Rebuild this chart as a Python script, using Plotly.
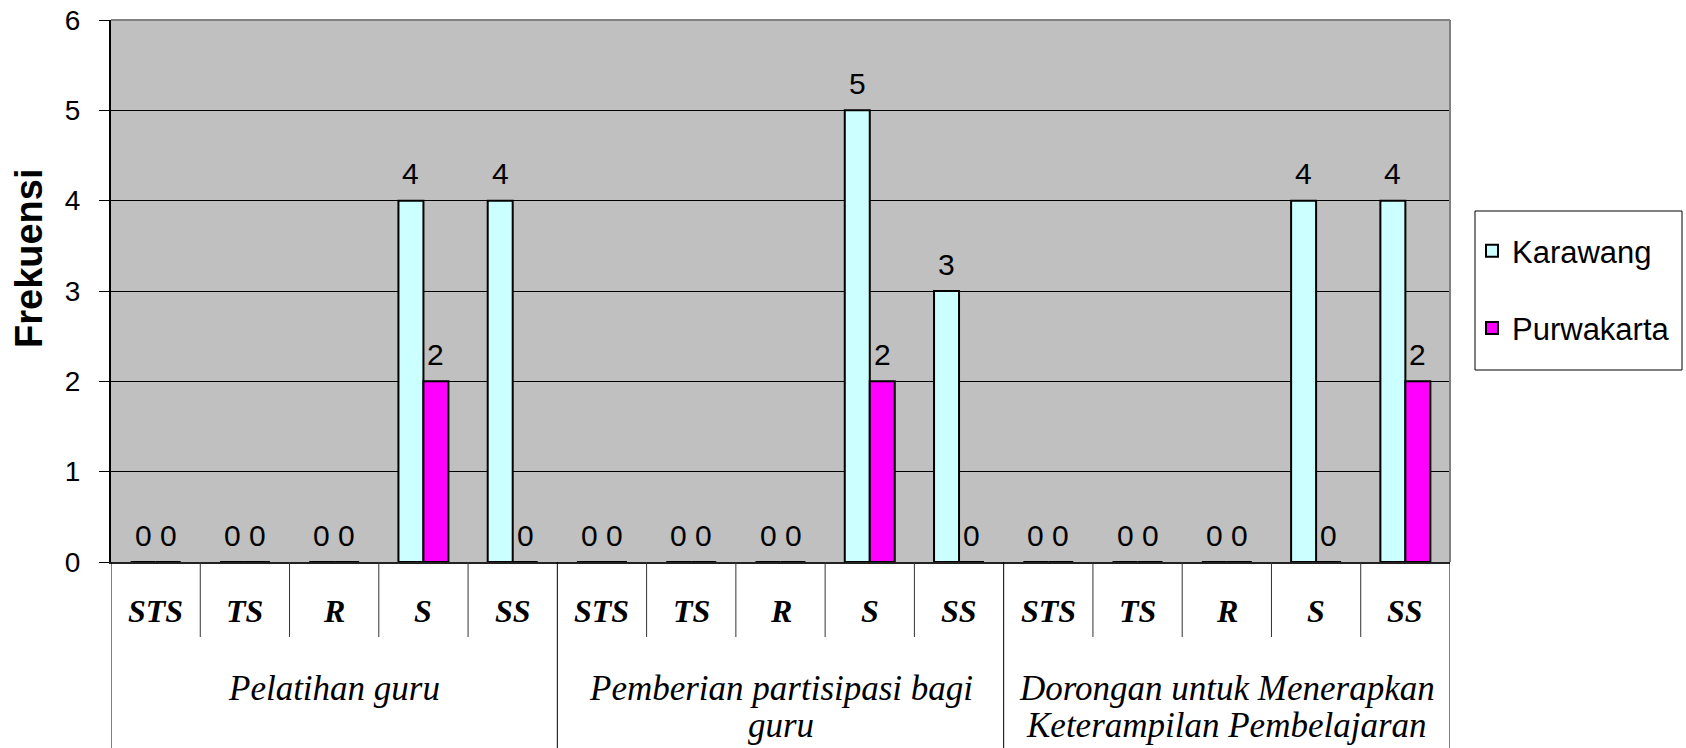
import plotly.graph_objects as go

# ---- data ----
groups = ["Pelatihan guru",
          "Pemberian partisipasi bagi guru",
          "Dorongan untuk Menerapkan Keterampilan Pembelajaran"]
group_lines = [["Pelatihan guru"],
               ["Pemberian partisipasi bagi", "guru"],
               ["Dorongan untuk Menerapkan", "Keterampilan Pembelajaran"]]
levels = ["STS", "TS", "R", "S", "SS"]
karawang = [0, 0, 0, 4, 4, 0, 0, 0, 5, 3, 0, 0, 0, 4, 4]
purwakarta = [0, 0, 0, 2, 0, 0, 0, 0, 2, 0, 0, 0, 0, 0, 2]
series_names = ["Karawang", "Purwakarta"]
y_ticks = [0, 1, 2, 3, 4, 5, 6]

# ---- layout geometry (page pixels; body margin removed in the page) ----
W, H = 1686, 748
PL, PR, PT, PB = 111, 1450, 20, 562          # plot area
L, T, R, B = PL, PT, W - PR, H - PB
plot_w, plot_h = PR - PL, PB - PT

def py(p):   # pixel y -> paper y
    return (PB - p) / plot_h

def pxx(p):  # pixel x -> paper x
    return (p - PL) / plot_w

colors = ["#CCFFFF", "#FF00FF"]
n_lv = len(levels)
n = len(groups) * n_lv
xpos = list(range(n))
bargap = 0.44
half = (1 - bargap) / 4  # centre offset of each bar in a pair

fig = go.Figure()
for k, (name, vals) in enumerate(zip(series_names, [karawang, purwakarta])):
    fig.add_trace(go.Bar(
        x=xpos, y=vals, name=name, legendgroup=name,
        marker=dict(color=colors[k], line=dict(color="black", width=2)),
    ))

annotations = []
# data labels
for k, vals in enumerate([karawang, purwakarta]):
    off = -half if k == 0 else half
    for i, v in enumerate(vals):
        annotations.append(dict(
            x=i + off, y=v, xref="x", yref="y", text=str(v), showarrow=False,
            yanchor="middle", yshift=27,
            font=dict(family="Arial, Liberation Sans", size=30, color="black")))

# sub-category labels
for i in xpos:
    annotations.append(dict(
        x=i, y=py(611), xref="x", yref="paper",
        text="<b><i>" + levels[i % n_lv] + "</i></b>", showarrow=False,
        yanchor="middle",
        font=dict(family="Liberation Serif, Times New Roman", size=32, color="black")))

# group labels
for g, lines in enumerate(group_lines):
    for j, line in enumerate(lines):
        annotations.append(dict(
            x=g * n_lv + (n_lv - 1) / 2, y=py(688 + 37 * j), xref="x", yref="paper",
            text="<i>" + line + "</i>", showarrow=False, yanchor="middle",
            font=dict(family="Liberation Serif, Times New Roman", size=35, color="black")))

# y title
annotations.append(dict(
    x=pxx(29), y=py(258), xref="paper", yref="paper", text="<b>Frekuensi</b>",
    textangle=-90, showarrow=False, xanchor="center", yanchor="middle",
    font=dict(family="Arial, Liberation Sans", size=38, color="black")))

shapes = []
# category dividers
for i in range(n + 1):
    is_group = (i % n_lv == 0)
    shapes.append(dict(
        type="line", xref="x", yref="paper", x0=i - 0.5, x1=i - 0.5,
        y0=0, y1=py(H) if is_group else py(637),
        line=dict(color="black" if is_group else "#333333", width=1)))
# plot border (top & right)
shapes.append(dict(type="line", xref="paper", yref="paper", x0=0, x1=1, y0=1, y1=1,
                   line=dict(color="#808080", width=2), layer="above"))
shapes.append(dict(type="line", xref="paper", yref="paper", x0=1, x1=1, y0=0, y1=1,
                   line=dict(color="#808080", width=2), layer="above"))
# legend box
shapes.append(dict(type="rect", xref="paper", yref="paper",
                   x0=pxx(1475), x1=pxx(1682), y0=py(370), y1=py(211),
                   fillcolor="white", line=dict(color="black", width=1), layer="below"))

fig.update_layout(
    width=W, height=H,
    margin=dict(l=L, r=R, t=T, b=B, autoexpand=False),
    paper_bgcolor="white", plot_bgcolor="#C0C0C0",
    barmode="group", bargap=bargap, bargroupgap=0,
    font=dict(family="Arial, Liberation Sans", color="black"),
    showlegend=True,
    legend=dict(x=pxx(1472), y=py(224), xanchor="left", yanchor="top",
                bgcolor="rgba(0,0,0,0)", borderwidth=0, traceorder="grouped",
                tracegroupgap=34,
                font=dict(family="Arial, Liberation Sans", size=31, color="black")),
    xaxis=dict(range=[-0.5, n - 0.5], showticklabels=False, showgrid=False,
               zeroline=False, showline=True, linecolor="#222222", linewidth=2,
               ticks=""),
    yaxis=dict(range=[0, 6], tickvals=y_ticks, showgrid=True, gridcolor="black",
               gridwidth=1, zeroline=False, showline=True, linecolor="black",
               linewidth=2, ticks="outside", ticklen=10, tickcolor="black",
               tickwidth=1, ticklabelstandoff=13, ticklabeloverflow="allow",
               tickfont=dict(family="Arial, Liberation Sans", size=28, color="black")),
    annotations=annotations, shapes=shapes,
)

fig.write_html("out.html", config={"displayModeBar": False},
               post_script="document.body.style.margin='0';document.body.style.overflow='hidden';")
